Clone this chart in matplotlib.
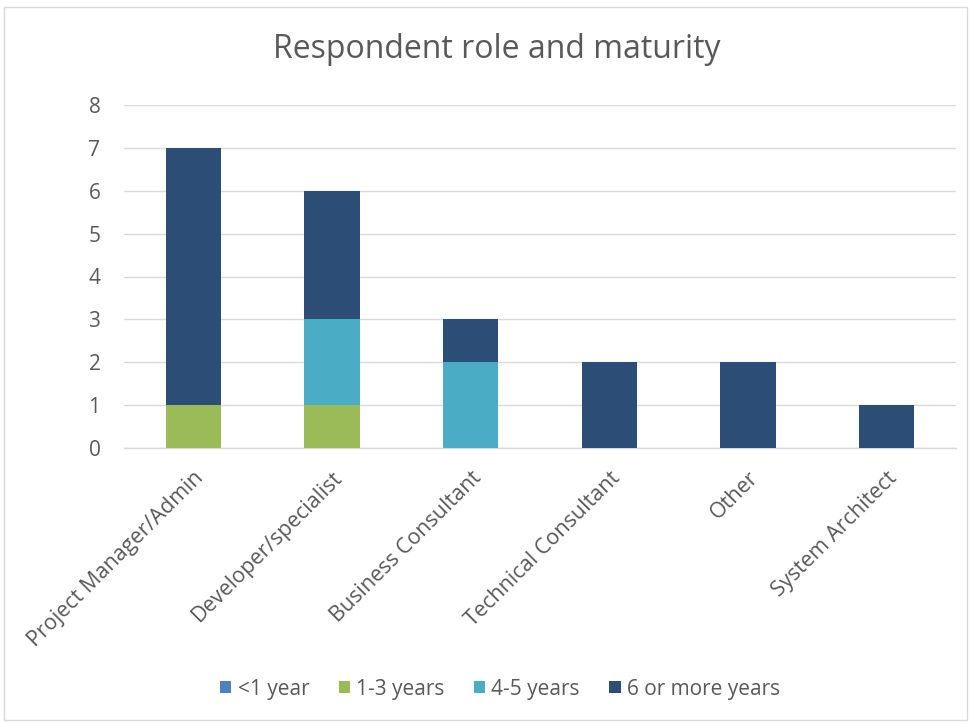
import matplotlib
matplotlib.use("Agg")
import matplotlib.pyplot as plt
import numpy as np
from matplotlib.patches import Rectangle

categories = ["Project Manager/Admin", "Developer/specialist", "Business Consultant",
              "Technical Consultant", "Other", "System Architect"]
series_names = ["<1 year", "1-3 years", "4-5 years", "6 or more years"]
lt1 = [0, 0, 0, 0, 0, 0]
y1_3 = [1, 1, 0, 0, 0, 0]
y4_5 = [0, 2, 2, 0, 0, 0]
y6p = [6, 3, 1, 2, 2, 1]
colors = ["#4F81BD", "#9BBB59", "#4BACC6", "#2C4D75"]
yticks = [0, 1, 2, 3, 4, 5, 6, 7, 8]

plt.rcParams['font.family'] = ['Open Sans', 'DejaVu Sans']
txt = "#595959"

fig = plt.figure(figsize=(9.71, 7.25), dpi=100)
fig.patches.append(Rectangle((4/971, 1-720/725), 963/971, 713/725, transform=fig.transFigure,
                             fill=False, edgecolor="#D9D9D9", linewidth=1.0))
ax = fig.add_axes([124/971, 1-448/725, 832/971, 343/725])

x = np.arange(len(categories))
bottom = np.zeros(len(categories))
for name, vals, c in zip(series_names, [lt1, y1_3, y4_5, y6p], colors):
    vals = np.array(vals, dtype=float)
    ax.bar(x, vals, width=0.4, bottom=bottom, color=c, label=name, zorder=3)
    bottom += vals

ax.set_xlim(-0.5, len(categories) - 0.5)
ax.set_ylim(0, 8)
ax.set_yticks(yticks)
ax.set_yticklabels([str(t) for t in yticks], fontsize=15, color=txt)
ax.yaxis.grid(True, color="#D9D9D9", linewidth=1.0, zorder=0)
ax.tick_params(axis='y', length=0, pad=17)
ax.tick_params(axis='x', length=0, pad=14)
ax.set_xticks(x)
ax.set_xticklabels(categories, rotation=45, ha='right', rotation_mode='anchor',
                   fontsize=15.5, color=txt)
for s in ["top", "right", "left"]:
    ax.spines[s].set_visible(False)
ax.spines["bottom"].set_color("#D9D9D9")
ax.spines["bottom"].set_linewidth(1.0)

fig.text(497/971, 1-50/725, "Respondent role and maturity", ha='center', va='center',
         fontsize=23, color=txt)

handles, labels = ax.get_legend_handles_labels()
fig.legend(handles, labels, loc='center', bbox_to_anchor=(500/971, 1-689/725), ncol=4,
           frameon=False, fontsize=15, labelcolor=txt, handlelength=0.55, handleheight=0.55,
           handletextpad=0.3, columnspacing=1.4)

fig.savefig("out.png", dpi=100)
